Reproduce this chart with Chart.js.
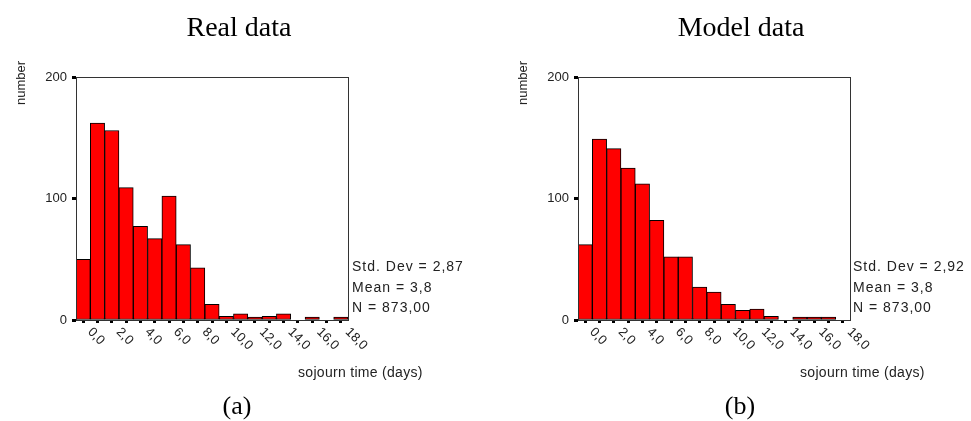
<!DOCTYPE html>
<html>
<head>
<meta charset="utf-8">
<script src="https://cdn.jsdelivr.net/npm/chart.js@4/dist/chart.umd.min.js"></script>
<style>
  html, body { margin: 0; padding: 0; background: #fff; }
  #wrap { position: relative; width: 971px; height: 421px; overflow: hidden;
          font-family: "Liberation Sans", Arial, sans-serif; color: #222; }
  canvas { position: absolute; top: 0; }
  .title { position: absolute; width: 300px; text-align: center; color: #000;
           font-family: "Liberation Serif", "Times New Roman", serif; font-size: 28px; line-height: 28px; }
  .cap { position: absolute; width: 100px; text-align: center; color: #000;
         font-family: "Liberation Serif", "Times New Roman", serif; font-size: 26px; line-height: 26px; }
  .stats { position: absolute; font-size: 14px; line-height: 20.5px; letter-spacing: 1px; white-space: nowrap; }
  .xtitle { position: absolute; font-size: 14px; line-height: 14px; letter-spacing: 0.3px; white-space: nowrap; }
  .ytitle { position: absolute; font-size: 13px; line-height: 13px; white-space: nowrap;
            transform-origin: left top; transform: rotate(-90deg); }
</style>
</head>
<body>
<div id="wrap">
  <canvas id="realChart" width="469" height="421" style="left:0"></canvas>
  <canvas id="modelChart" width="469" height="421" style="left:502px"></canvas>

  <div class="title" style="left:89px; top:13px">Real data</div>
  <div class="title" style="left:591px; top:13px">Model data</div>

  <div class="ytitle" style="left:14px; top:105px">number</div>
  <div class="ytitle" style="left:516px; top:105px">number</div>

  <div class="stats" style="left:352px; top:256px">Std. Dev = 2,87<br>Mean = 3,8<br>N = 873,00</div>
  <div class="stats" style="left:853px; top:256px">Std. Dev = 2,92<br>Mean = 3,8<br>N = 873,00</div>

  <div class="xtitle" style="left:298px; top:365px">sojourn time (days)</div>
  <div class="xtitle" style="left:800px; top:365px">sojourn time (days)</div>

  <div class="cap" style="left:187px; top:393px">(a)</div>
  <div class="cap" style="left:690px; top:393px">(b)</div>
</div>

<script>
// histogram bins, one per day (bin centres 0..18)
const bins = ['0', '1', '2', '3', '4', '5', '6', '7', '8', '9', '10', '11', '12', '13', '14', '15', '16', '17', '18'];
const realCounts = [50, 162, 156, 109, 77, 67, 102, 62, 43, 13, 3, 5, 1, 3, 5, 0, 1, 0, 1];
const modelCounts = [62, 149, 141, 125, 112, 82, 52, 52, 27, 23, 13, 8, 9, 3, 0, 1, 1, 1, 0];

// labelled x ticks (every second bin) and y ticks
const tickBins = [0, 2, 4, 6, 8, 10, 12, 14, 16, 18];
const tickLabels = ['0,0', '2,0', '4,0', '6,0', '8,0', '10,0', '12,0', '14,0', '16,0', '18,0'];
const yTicks = [0, 100, 200];

const FONT = '"Liberation Sans", Arial, sans-serif';

// box around the plot + rotated x labels (SPSS style, slanting down to the right)
const framePlugin = {
    id: 'frame',
    afterDraw(chart) {
        const { ctx, chartArea: a, scales: { x } } = chart;
        ctx.save();
        ctx.strokeStyle = '#333';
        ctx.lineWidth = 1;
        ctx.strokeRect(Math.round(a.left) + 0.5, Math.round(a.top) + 0.5,
            Math.round(a.right - a.left), Math.round(a.bottom - a.top));

        ctx.fillStyle = '#222';
        ctx.font = '13px ' + FONT;
        ctx.textAlign = 'left';
        ctx.textBaseline = 'middle';
        tickBins.forEach((bin, i) => {
            const px = x.getPixelForValue(bin);
            ctx.save();
            ctx.translate(px + 6.5, a.bottom + 10);
            ctx.rotate(Math.PI / 4);
            ctx.fillText(tickLabels[i], 0, 0);
            ctx.restore();
        });
        ctx.restore();
    }
};

function makeHistogram(canvasId, counts) {
    const ctx = document.getElementById(canvasId).getContext('2d');
    return new Chart(ctx, {
        type: 'bar',
        data: {
            labels: bins,
            datasets: [{
                // empty bins drawn as nothing, tiny ones still get a visible sliver
                data: counts.map(v => v || null),
                backgroundColor: '#ff0000',
                borderColor: '#000',
                borderWidth: 1,
                borderSkipped: false,
                minBarLength: 3,
                barPercentage: 1,
                categoryPercentage: 1,
            }]
        },
        options: {
            responsive: false,
            animation: false,
            devicePixelRatio: 1,
            layout: {
                padding: { left: 0, top: 77, right: 121, bottom: 101 }
            },
            scales: {
                x: {
                    afterFit(scale) { scale.height = 0; },
                    ticks: { display: false, autoSkip: false },
                    grid: {
                        offset: false,
                        drawOnChartArea: false,
                        tickLength: 3,
                        tickWidth: 3,
                        tickColor: '#000',
                    },
                    border: { display: false },
                },
                y: {
                    min: 0,
                    max: 200,
                    afterFit(scale) { scale.width = 76; },
                    afterBuildTicks(scale) {
                        scale.ticks = yTicks.map(v => ({ value: v }));
                    },
                    ticks: {
                        padding: 5,
                        color: '#222',
                        font: { size: 13, family: FONT },
                    },
                    grid: {
                        drawOnChartArea: false,
                        tickLength: 4,
                        tickWidth: 3,
                        tickColor: '#000',
                    },
                    border: { display: false },
                }
            },
            plugins: {
                legend: { display: false },
                tooltip: { enabled: false },
            }
        },
        plugins: [framePlugin]
    });
}

makeHistogram('realChart', realCounts);
makeHistogram('modelChart', modelCounts);
</script>
</body>
</html>
